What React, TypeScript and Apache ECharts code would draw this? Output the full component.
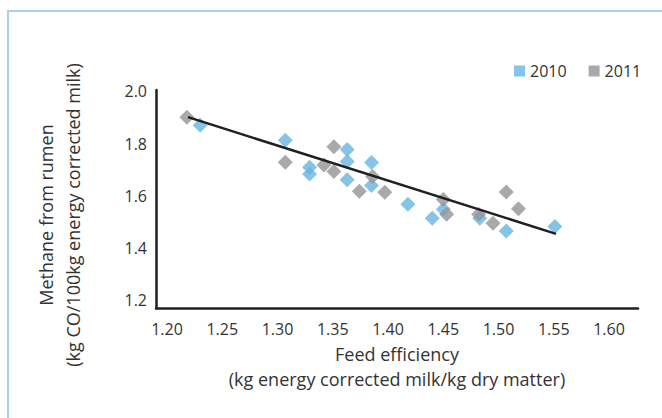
import React, { useEffect, useRef } from "react";
import * as echarts from "echarts";

const xTicks = [1.2, 1.25, 1.3, 1.35, 1.4, 1.45, 1.5, 1.55, 1.6];
const yTicks = [1.2, 1.4, 1.6, 1.8, 2.0];

const x2010 = [1.23, 1.307, 1.329, 1.329, 1.363, 1.363, 1.363, 1.385, 1.385, 1.418, 1.44, 1.45, 1.483, 1.507, 1.551];
const y2010 = [1.87, 1.813, 1.709, 1.683, 1.777, 1.731, 1.661, 1.727, 1.639, 1.567, 1.514, 1.548, 1.514, 1.465, 1.482];

const x2011 = [1.218, 1.307, 1.342, 1.351, 1.351, 1.374, 1.386, 1.397, 1.45, 1.453, 1.482, 1.495, 1.507, 1.518];
const y2011 = [1.901, 1.728, 1.718, 1.788, 1.693, 1.617, 1.674, 1.613, 1.586, 1.529, 1.529, 1.495, 1.614, 1.55];

const trendX = [1.219, 1.552];
const trendY = [1.901, 1.454];

const FONT = "'Open Sans', sans-serif";

export default function App() {
  const ref = useRef<HTMLDivElement>(null);
  useEffect(() => {
    if (!ref.current) return;
    const chart = echarts.init(ref.current, null, { renderer: "svg" });
    const zip = (xs: number[], ys: number[]) => xs.map((x, i) => [x, ys[i]]);
    chart.setOption({
      animation: false,
      backgroundColor: "#ffffff",
      textStyle: { fontFamily: FONT },
      graphic: [
        {
          type: "rect",
          shape: { x: 8, y: 11, width: 720, height: 500 },
          style: { fill: "none", stroke: "#a7d0ea", lineWidth: 2 },
          silent: true,
        },
        {
          type: "text",
          x: 59,
          y: 215,
          rotation: Math.PI / 2,
          style: {
            text: "Methane from rumen\n(kg CO/100kg energy corrected milk)",
            fontFamily: FONT,
            fontSize: 18,
            lineHeight: 27,
            fill: "#333333",
            align: "center",
            verticalAlign: "middle",
          },
        },
      ],
      legend: {
        data: ["2010", "2011"],
        left: 509,
        top: 58,
        icon: "rect",
        itemWidth: 11,
        itemHeight: 11,
        itemGap: 22,
        textStyle: { fontFamily: FONT, fontSize: 16, color: "#333333" },
      },
      grid: { left: 156, top: 90, right: 24, bottom: 110, containLabel: false },
      xAxis: {
        type: "value",
        min: 1.19,
        max: 1.6262,
        name: "Feed efficiency\n(kg energy corrected milk/kg dry matter)",
        nameLocation: "middle",
        nameGap: 32,
        nameTextStyle: { fontFamily: FONT, fontSize: 18, color: "#333333", lineHeight: 25, verticalAlign: "top" },
        axisLine: { lineStyle: { color: "#231f20", width: 2.5 } },
        axisTick: { show: false },
        splitLine: { show: false },
        axisLabel: {
          customValues: xTicks,
          formatter: (v: number) => v.toFixed(2),
          fontFamily: FONT,
          fontSize: 16,
          color: "#333333",
          margin: 13,
        },
      },
      yAxis: {
        type: "value",
        min: 1.17,
        max: 2.005,
        axisLine: { show: true, lineStyle: { color: "#231f20", width: 2.5 } },
        axisTick: { show: false },
        splitLine: { show: false },
        axisLabel: {
          customValues: yTicks,
          formatter: (v: number) => v.toFixed(1),
          fontFamily: FONT,
          fontSize: 16,
          color: "#333333",
          margin: 9,
        },
      },
      series: [
        {
          name: "2010",
          type: "scatter",
          symbol: "diamond",
          symbolSize: 15,
          itemStyle: { color: "#66b5e1" },
          data: zip(x2010, y2010),
          z: 2,
        },
        {
          name: "2011",
          type: "scatter",
          symbol: "diamond",
          symbolSize: 15,
          itemStyle: { color: "#939497" },
          data: zip(x2011, y2011),
          z: 2,
        },
        {
          name: "Trend",
          type: "line",
          symbol: "none",
          lineStyle: { color: "#231f20", width: 2.5 },
          data: zip(trendX, trendY),
          z: 5,
        },
      ],
    });
    return () => chart.dispose();
  }, []);
  return (
    <div
      ref={ref}
      style={{ position: "fixed", left: 0, top: 0, width: 662, height: 418 }}
    />
  );
}
